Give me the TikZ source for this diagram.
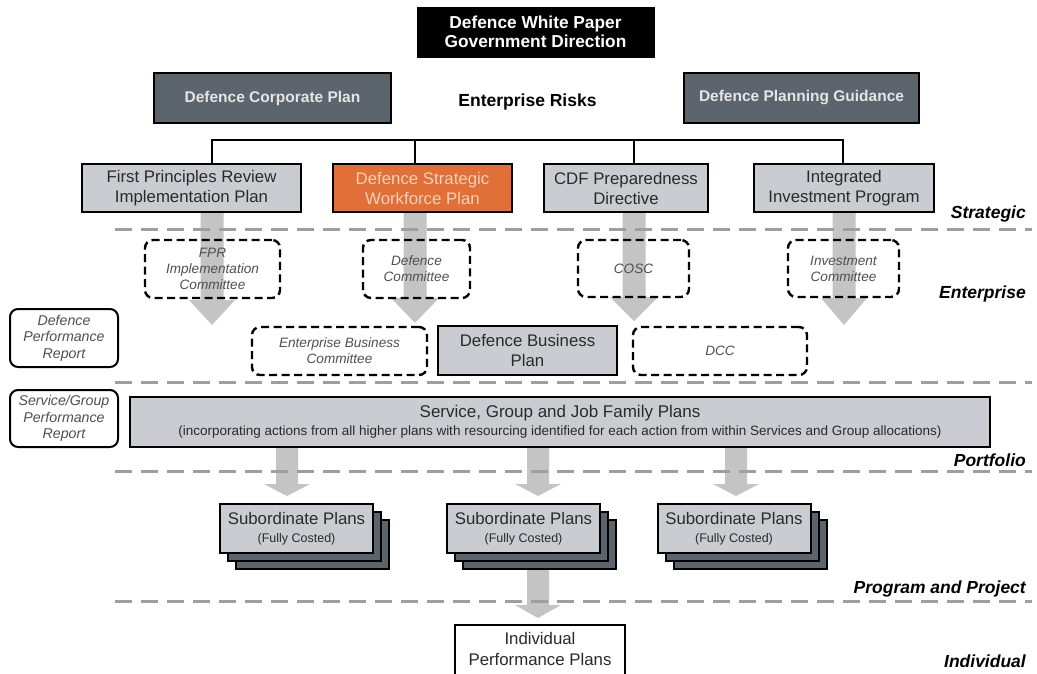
\documentclass[tikz,border=0pt]{standalone}
\usepackage{fontspec}
\setmainfont{Liberation Sans}
\usetikzlibrary{calc}
\definecolor{slate}{HTML}{5C656D}
\definecolor{lgray}{HTML}{C9CDD1}
\definecolor{orng}{HTML}{E07038}
\definecolor{orngtxt}{HTML}{F8D0BE}
\definecolor{agray}{HTML}{C4C4C4}
\definecolor{sepgray}{HTML}{9E9E9E}
\definecolor{txt}{HTML}{2A2A2A}
\definecolor{ctxt}{HTML}{505050}
\newcommand\garrow[6]{%
  \fill[agray] (#1-#5,#2) -- (#1+#5,#2) -- (#1+#5,#3) -- (#1+#6,#3) -- (#1,#4)
     -- (#1-#6,#3) -- (#1-#5,#3) -- cycle;}
\tikzset{
  boxsize/.style 2 args={minimum width=#1, minimum height=#2},
  blackbox/.style={draw=black, line width=1pt, fill=black, text=white, align=center,
     font=\fontsize{17.3}{18.5}\selectfont\bfseries, inner sep=0pt},
  darkbox/.style={draw=black, line width=2pt, fill=slate, text=white!90!black,
     font=\fontsize{15.5}{18}\selectfont\bfseries, inner sep=0pt},
  lightbox/.style={draw=black, line width=2pt, fill=lgray, text=txt, align=center,
     font=\fontsize{16.8}{20}\selectfont, inner sep=0pt},
  orangebox/.style={lightbox, fill=orng, text=orngtxt},
  commbox/.style={draw=black, line width=2.4pt, dash pattern=on 8pt off 4.5pt,
     rounded corners=8pt, text=ctxt, align=center,
     font=\fontsize{13.6}{15.8}\selectfont\itshape, inner sep=0pt},
  reportbox/.style={draw=black, line width=2pt, rounded corners=8pt, fill=white,
     text=ctxt, align=center, font=\fontsize{14.2}{16.5}\selectfont\itshape, inner sep=0pt},
  stackbox/.style={draw=black, line width=2pt, fill=slate, minimum width=153pt, minimum height=49pt},
  subbox/.style={lightbox, minimum width=153pt, minimum height=49pt},
  levellabel/.style={font=\fontsize{17.5}{20}\selectfont\bfseries\itshape, anchor=base east, inner sep=0pt},
  sepline/.style={draw=sepgray, line width=3pt, dash pattern=on 17pt off 9pt},
  connector/.style={draw=black, line width=2pt, line join=miter}
}
\newcommand\substack[3]{%
  \node[stackbox] (#1c) at (#2+16,#3+16) {};
  \node[stackbox] (#1b) at (#2+8,#3+8) {};
  \node[subbox] (#1) at (#2,#3) {Subordinate Plans\\[-2pt]{\fontsize{12.5}{15}\selectfont (Fully Costed)}};}
\begin{document}
\begin{tikzpicture}[x=1pt,y=-1pt]
\useasboundingbox (0,0) rectangle (1037,673);
\clip (0,0) rectangle (1037,673);
\fill[white] (0,0) rectangle (1037,673);

% block arrows
\garrow{212}{212}{300}{325}{11.5}{23}
\garrow{415}{212}{298}{323}{11.5}{24}
\garrow{634}{212}{297}{321}{11.5}{24}
\garrow{844}{212}{298}{325}{11.5}{23}
\garrow{287}{447}{484}{496}{11}{23}
\garrow{538}{447}{484}{496}{11}{23}
\garrow{736}{447}{484}{496}{11}{23}
\garrow{538}{569}{605}{618}{11}{23}

% separators
\draw[sepline] (115,229) -- (1032,229);
\draw[sepline] (115,382) -- (1032,382);
\draw[sepline] (115,471) -- (1032,471);
\draw[sepline] (115,601) -- (1032,601);

% top level
\node[blackbox, boxsize={237pt}{50pt}] (wp) at (535.5,32) {Defence White Paper\\Government Direction};
\node[darkbox, boxsize={237pt}{50pt}] (dcp) at (272.5,98) {Defence Corporate Plan};
\node[darkbox, boxsize={235pt}{50pt}] (dpg) at (801.5,98) {Defence Planning Guidance};
\node[font=\fontsize{17.5}{19}\selectfont\bfseries, anchor=base, inner sep=0pt] (er) at (527.5,106) {Enterprise Risks};

% strategic plans
\node[lightbox, boxsize={219pt}{48pt}] (fpr) at (191.5,188) {First Principles Review\\Implementation Plan};
\node[orangebox, boxsize={179pt}{48pt}] (dsw) at (422.5,188) {Defence Strategic\\Workforce Plan};
\node[lightbox, boxsize={164pt}{48pt}] (cdf) at (626,188) {CDF Preparedness\\Directive};
\node[lightbox, boxsize={180pt}{48pt}] (iip) at (844,188) {Integrated\\Investment Program};

\coordinate (j1) at (212,140);
\coordinate (j2) at (415,140);
\coordinate (j3) at (634,140);
\coordinate (j4) at (843,140);
\draw[connector] (j1 |- fpr.north) -- (j1) -- (j4) -- (j4 |- iip.north);
\draw[connector] (j2) -- (j2 |- dsw.north);
\draw[connector] (j3) -- (j3 |- cdf.north);

% committees
\node[commbox, boxsize={135pt}{58pt}] (fic) at (212.5,269) {FPR\\Implementation\\Committee};
\node[commbox, boxsize={107pt}{58pt}] (dc) at (416.5,269) {Defence\\Committee};
\node[commbox, boxsize={111pt}{57pt}] (cosc) at (633.5,268.5) {COSC};
\node[commbox, boxsize={111pt}{57pt}] (ic) at (843.5,268.5) {Investment\\Committee};
\node[commbox, boxsize={175pt}{48pt}] (ebc) at (339.5,351) {Enterprise Business\\Committee};
\node[lightbox, boxsize={179pt}{49pt}] (dbp) at (527.5,350.5) {Defence Business\\Plan};
\node[commbox, boxsize={174pt}{48pt}] (dcc) at (720,351) {DCC};

% reports
\node[reportbox, boxsize={108pt}{58pt}] (dpr) at (64,338) {Defence\\Performance\\Report};
\node[reportbox, boxsize={108pt}{57pt}] (sgpr) at (64,418.5) {Service/Group\\Performance\\Report};

% service plans
\node[lightbox, boxsize={860pt}{50pt}] (sgj) at (560,422)
  {{\fontsize{17}{19}\selectfont Service, Group and Job Family Plans}\\[-2pt]
   \fontsize{13.5}{15}\selectfont (incorporating actions from all higher plans with resourcing identified for each action from within Services and Group allocations)};

% subordinate plans
\substack{sub1}{296.5}{528.5}
\substack{sub2}{523.5}{528.5}
\substack{sub3}{734}{528.5}

% individual
\node[fill=white, boxsize={170pt}{48pt}, align=center, inner sep=0pt, text=txt,
      font=\fontsize{16.8}{21}\selectfont] (ipp) at (540,649) {Individual\\Performance Plans};
\draw[connector] ([yshift=-6pt]ipp.south west) -- (ipp.north west) -- (ipp.north east) -- ([yshift=-6pt]ipp.south east);

% level labels
\node[levellabel] (lstr) at (1026,218) {Strategic};
\node[levellabel] (lent) at (1026,298) {Enterprise};
\node[levellabel] (lpor) at (1026,466) {Portfolio};
\node[levellabel] (lpp) at (1026,593) {Program and Project};
\node[levellabel] (lind) at (1026,667) {Individual};
\end{tikzpicture}
\end{document}
